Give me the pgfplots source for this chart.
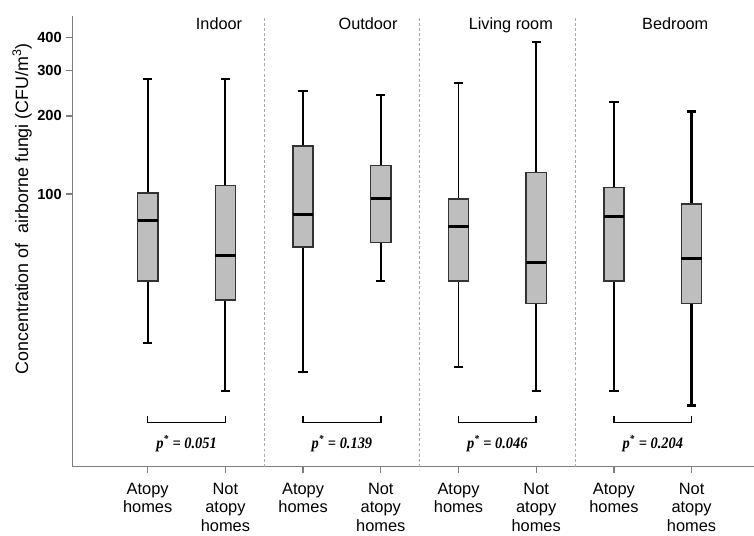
\documentclass[border=0pt]{standalone}
\usepackage{pgfplots}
\pgfplotsset{compat=1.18}
\usepackage{fontspec}
\setmainfont{Liberation Sans}
\newfontfamily\pserif[FakeStretch=0.9]{Liberation Serif}
\definecolor{boxgray}{RGB}{190,190,190}
\definecolor{axgray}{RGB}{125,125,125}
\definecolor{sepgray}{RGB}{170,170,170}
\begin{document}
\begin{tikzpicture}
\path[use as bounding box] (-54.375pt,-51.975pt) rectangle (511.125pt,350.025pt);
\begin{axis}[
  at={(0pt,0pt)}, anchor=south west,
  scale only axis, width=511.1pt, height=338.0pt,
  xmin=-0.968, xmax=7.803, ymin=8.9, ymax=485, ymode=log,
  axis x line=bottom, axis y line=left,
  axis line style={axgray, line width=1pt, -},
  tick style={axgray, line width=1pt},
  tick align=outside, major tick length=4.5pt,
  xtick={0,1,2,3,4,5,6,7},
  xticklabels={Atopy\\homes, Not\\atopy\\homes, Atopy\\homes, Not\\atopy\\homes, Atopy\\homes, Not\\atopy\\homes, Atopy\\homes, Not\\atopy\\homes},
  xticklabel style={align=center, anchor=north, font=\fontsize{12.3}{14}\selectfont, yshift=-4pt},
  ytick={100,200,300,400}, yticklabels={100,200,300,400},
  minor ytick={},
  yticklabel style={font=\fontsize{11}{13}\selectfont\bfseries},
  ylabel={Concentration of\ \ airborne fungi (CFU/m\textsuperscript{3})},
  ylabel style={at={(axis description cs:-0.0741,0.5724)}, anchor=center, font=\fontsize{13.4}{15}\selectfont},
  clip=false,
  wh/.style={black, line width=1.4pt},
  whb/.style={black, line width=1.7pt},
  bx/.style={draw=black!80, fill=boxgray, line width=1.1pt},
  md/.style={black, line width=2.1pt},
]
% separators
\addplot[sepgray, dash pattern=on 2.2pt off 1.6pt, line width=0.6pt] coordinates {(1.5,8.9) (1.5,485)};
\addplot[sepgray, dash pattern=on 2.2pt off 1.6pt, line width=0.6pt] coordinates {(3.5,8.9) (3.5,485)};
\addplot[sepgray, dash pattern=on 2.2pt off 1.6pt, line width=0.6pt] coordinates {(5.5,8.9) (5.5,485)};
% 0 Indoor atopy: 26.6 46.3 79.3 101 278
\addplot[wh] coordinates {(0,26.6) (0,278)};
\addplot[wh] coordinates {(-0.06,26.6) (0.06,26.6)};
\addplot[wh] coordinates {(-0.06,278) (0.06,278)};
\addplot[bx] coordinates {(-0.13,46.3) (0.13,46.3) (0.13,101) (-0.13,101)} -- cycle;
\addplot[md] coordinates {(-0.13,79.3) (0.13,79.3)};
% 1 Indoor not: 17.4 39.1 57.8 108 278
\addplot[wh] coordinates {(1,17.4) (1,278)};
\addplot[wh] coordinates {(0.94,17.4) (1.06,17.4)};
\addplot[wh] coordinates {(0.94,278) (1.06,278)};
\addplot[bx] coordinates {(0.87,39.1) (1.13,39.1) (1.13,108) (0.87,108)} -- cycle;
\addplot[md] coordinates {(0.87,57.8) (1.13,57.8)};
% 2 Outdoor atopy: 20.6 62.6 83.5 153 250
\addplot[wh] coordinates {(2,20.6) (2,250)};
\addplot[wh] coordinates {(1.94,20.6) (2.06,20.6)};
\addplot[wh] coordinates {(1.94,250) (2.06,250)};
\addplot[bx] coordinates {(1.87,62.6) (2.13,62.6) (2.13,153) (1.87,153)} -- cycle;
\addplot[md] coordinates {(1.87,83.5) (2.13,83.5)};
% 3 Outdoor not: 46.4 64.9 95.9 129 241
\addplot[wh] coordinates {(3,46.4) (3,241)};
\addplot[wh] coordinates {(2.94,46.4) (3.06,46.4)};
\addplot[wh] coordinates {(2.94,241) (3.06,241)};
\addplot[bx] coordinates {(2.87,64.9) (3.13,64.9) (3.13,129) (2.87,129)} -- cycle;
\addplot[md] coordinates {(2.87,95.9) (3.13,95.9)};
% 4 Living atopy: 21.5 46.3 75.2 95.6 267
\addplot[wh] coordinates {(4,21.5) (4,267)};
\addplot[wh] coordinates {(3.94,21.5) (4.06,21.5)};
\addplot[wh] coordinates {(3.94,267) (4.06,267)};
\addplot[bx] coordinates {(3.87,46.3) (4.13,46.3) (4.13,95.6) (3.87,95.6)} -- cycle;
\addplot[md] coordinates {(3.87,75.2) (4.13,75.2)};
% 5 Living not: 17.4 37.9 54.6 121 384
\addplot[whb] coordinates {(5,17.4) (5,384)};
\addplot[whb] coordinates {(4.94,17.4) (5.06,17.4)};
\addplot[whb] coordinates {(4.94,384) (5.06,384)};
\addplot[bx] coordinates {(4.87,37.9) (5.13,37.9) (5.13,121) (4.87,121)} -- cycle;
\addplot[md] coordinates {(4.87,54.6) (5.13,54.6)};
% 6 Bedroom atopy: 17.4 46.3 81.7 106 227
\addplot[wh] coordinates {(6,17.4) (6,227)};
\addplot[wh] coordinates {(5.94,17.4) (6.06,17.4)};
\addplot[wh] coordinates {(5.94,227) (6.06,227)};
\addplot[bx] coordinates {(5.87,46.3) (6.13,46.3) (6.13,106) (5.87,106)} -- cycle;
\addplot[md] coordinates {(5.87,81.7) (6.13,81.7)};
% 7 Bedroom not: 15.3 37.9 56.6 91.5 208
\addplot[whb] coordinates {(7,15.3) (7,208)};
\addplot[whb] coordinates {(6.94,15.3) (7.06,15.3)};
\addplot[whb] coordinates {(6.94,208) (7.06,208)};
\addplot[bx] coordinates {(6.87,37.9) (7.13,37.9) (7.13,91.5) (6.87,91.5)} -- cycle;
\addplot[md] coordinates {(6.87,56.6) (7.13,56.6)};
% brackets
\addplot[black, line width=1.1pt] coordinates {(0,13.95) (0,13.15) (1,13.15) (1,13.95)};
\addplot[black, line width=1.1pt] coordinates {(2,13.95) (2,13.15) (3,13.15) (3,13.95)};
\addplot[black, line width=1.1pt] coordinates {(4,13.95) (4,13.15) (5,13.15) (5,13.95)};
\addplot[black, line width=1.1pt] coordinates {(6,13.95) (6,13.15) (7,13.15) (7,13.95)};
% p values
\node[anchor=base, font=\pserif\bfseries\itshape\fontsize{12}{14}\selectfont] at (axis cs:0.5,10.5) {p\textsuperscript{*} = 0.051};
\node[anchor=base, font=\pserif\bfseries\itshape\fontsize{12}{14}\selectfont] at (axis cs:2.5,10.5) {p\textsuperscript{*} = 0.139};
\node[anchor=base, font=\pserif\bfseries\itshape\fontsize{12}{14}\selectfont] at (axis cs:4.5,10.5) {p\textsuperscript{*} = 0.046};
\node[anchor=base, font=\pserif\bfseries\itshape\fontsize{12}{14}\selectfont] at (axis cs:6.5,10.5) {p\textsuperscript{*} = 0.204};
% panel labels
\node[anchor=base east, font=\fontsize{12.2}{14}\selectfont] at (axis cs:1.275,432) {Indoor};
\node[anchor=base east, font=\fontsize{12.2}{14}\selectfont] at (axis cs:3.275,432) {Outdoor};
\node[anchor=base east, font=\fontsize{12.2}{14}\selectfont] at (axis cs:5.275,432) {Living room};
\node[anchor=base east, font=\fontsize{12.2}{14}\selectfont] at (axis cs:7.275,432) {Bedroom};
\end{axis}
\end{tikzpicture}
\end{document}
